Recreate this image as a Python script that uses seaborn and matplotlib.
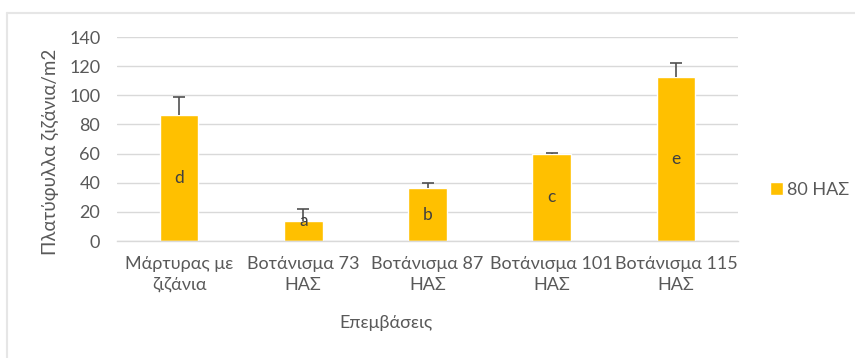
import matplotlib
matplotlib.use("Agg")
import matplotlib.pyplot as plt
import seaborn as sns
import pandas as pd
import numpy as np

# Weed density per treatment, 80 days after sowing
categories = ["Μάρτυρας με\nζιζάνια", "Βοτάνισμα 73\nΗΑΣ", "Βοτάνισμα 87\nΗΑΣ",
              "Βοτάνισμα 101\nΗΑΣ", "Βοτάνισμα 115\nΗΑΣ"]
values = [86.5, 13.5, 36.3, 60.0, 112.8]
errors = [12.5, 8.3, 3.8, 0.4, 9.2]
letters = ["d", "a", "b", "c", "e"]
series_name = "80 ΗΑΣ"
yticks = [0, 20, 40, 60, 80, 100, 120, 140]

gold = "#FFC000"
text_gray = "#595959"
grid_gray = "#D9D9D9"

sns.set_theme(style="white")
plt.rcParams["font.family"] = ["Lato", "DejaVu Sans"]

df = pd.DataFrame({"Επεμβάσεις": categories, "value": values})

fig = plt.figure(figsize=(8.55, 3.58), dpi=100)
ax = fig.add_axes([117 / 855, 1 - 241 / 358, 621 / 855, 204 / 358])

sns.barplot(data=df, x="Επεμβάσεις", y="value", color=gold, width=0.31,
            saturation=1, ax=ax, label=series_name, zorder=2)

# Upper-only error bars with a single cap at the top
x = np.arange(len(values))
_, caps, _ = ax.errorbar(x, values, yerr=[np.zeros(len(errors)), errors],
                         fmt="none", ecolor="#505050", elinewidth=1.2,
                         capsize=4, capthick=1.2, zorder=3)
caps[0].set_visible(False)

for xi, v, t in zip(x, values, letters):
    ax.text(xi, max(v / 2, 13.5), t, ha="center", va="center",
            fontsize=12.5, color="#404040", zorder=4)

ax.set_ylim(0, 140)
ax.set_xlim(-0.5, len(values) - 0.5)
ax.set_yticks(yticks)
ax.yaxis.grid(True, color=grid_gray, linewidth=1, zorder=0)
ax.set_axisbelow(True)
for s in ["top", "right", "left"]:
    ax.spines[s].set_visible(False)
ax.spines["bottom"].set_color(grid_gray)
ax.spines["bottom"].set_linewidth(1)
ax.tick_params(axis="both", length=0, labelsize=13, colors=text_gray)
ax.tick_params(axis="y", pad=12)
ax.tick_params(axis="x", pad=11)
for lbl in ax.get_xticklabels():
    lbl.set_linespacing(1.35)

ax.set_xlabel("")
ax.set_ylabel("")
fig.text(386 / 855, 1 - 323 / 358, "Επεμβάσεις", ha="center", va="center",
         fontsize=13, color=text_gray)
fig.text(50 / 855, 1 - 152 / 358, "Πλατύφυλλα ζιζάνια/m2", ha="center",
         va="center", rotation=90, fontsize=13.5, color=text_gray)

leg = ax.legend(loc="center left", bbox_to_anchor=(1.025, 0.25), frameon=False,
                fontsize=13, handlelength=0.75, handleheight=0.75,
                handletextpad=0.2, labelcolor=text_gray)

# Chart area border
fig.add_artist(plt.Line2D([7 / 855, 1], [1 - 13 / 358] * 2, color="#E6E6E6",
                          linewidth=1.5, transform=fig.transFigure))
fig.add_artist(plt.Line2D([7 / 855] * 2, [0, 1 - 13 / 358], color="#E6E6E6",
                          linewidth=1.5, transform=fig.transFigure))

fig.savefig("out.png", dpi=100, facecolor="white")
